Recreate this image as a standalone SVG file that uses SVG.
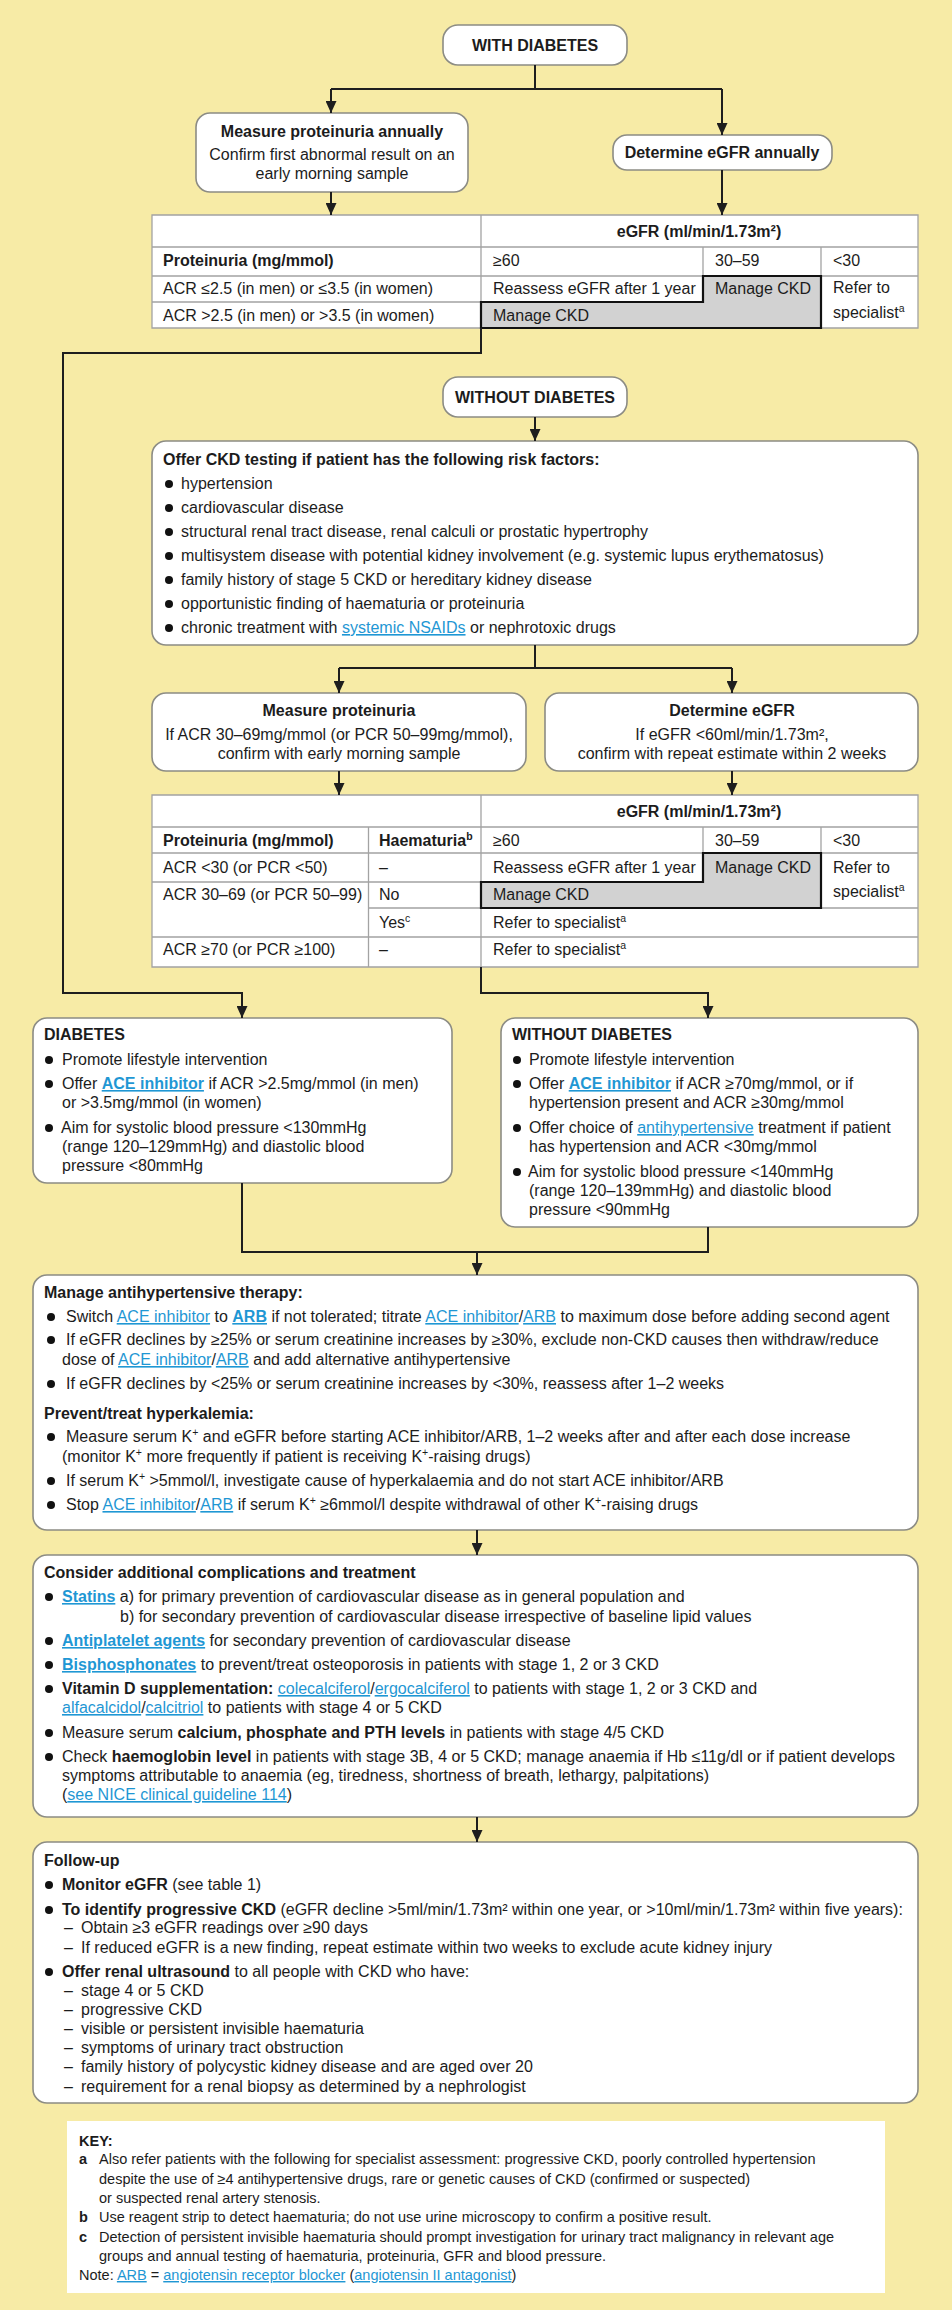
<svg xmlns="http://www.w3.org/2000/svg" width="952" height="2310" viewBox="0 0 952 2310">
<defs>
<style>
text{font-family:"Liberation Sans",Arial,Helvetica,sans-serif;font-size:16px;fill:#1c1c1c}
.b{font-weight:bold}
.c{text-anchor:middle}
.lk{fill:#1f97d4;text-decoration:underline}
.box{fill:#fff;stroke:#8c8c84;stroke-width:1.6}
.conn{fill:none;stroke:#1e1e1e;stroke-width:2}
.tl{stroke:#a3a3a3;stroke-width:1.3;fill:none}
.thick{fill:none;stroke:#111;stroke-width:2.2}
.grey{fill:#d2d2d2}
.dot{fill:#111}
.key text{font-size:14.5px}
.sup{font-size:10.5px}
</style>
<marker id="ah" viewBox="0 0 12 11" refX="12" refY="5.5" markerWidth="12" markerHeight="11" orient="auto" markerUnits="userSpaceOnUse"><path d="M0,0L12,5.5L0,11z" fill="#1e1e1e"/></marker>
</defs>
<rect x="0" y="0" width="952" height="2310" fill="#F7EBA6"/>

<g id="with-diabetes">
<rect class="box" x="443" y="25" width="184" height="40" rx="15"/>
<text class="b c" x="535" y="51">WITH DIABETES</text>
</g>

<g id="measure-proteinuria-annually">
<rect class="box" x="196" y="113" width="272" height="79" rx="14"/>
<text class="b c" x="332" y="137">Measure proteinuria annually</text>
<text class="c" x="332" y="160">Confirm first abnormal result on an</text>
<text class="c" x="332" y="179">early morning sample</text>
</g>

<g id="determine-egfr-annually">
<rect class="box" x="613" y="135" width="219" height="35" rx="14"/>
<text class="b c" x="722" y="158">Determine eGFR annually</text>
</g>

<g id="table1">
<rect x="152" y="215" width="766" height="113" fill="#fff"/>
<path class="grey" d="M703,276H821V328H481V302H703Z"/>
<path class="tl" d="M152,215H918V328H152Z M152,247H918 M152,276H703 M821,276H918 M152,302H481 M481,215V302 M703,247V276 M821,247V276"/>
<path class="thick" d="M703,276H821V328H481V302H703Z"/>
<text class="b c" x="699" y="237">eGFR (ml/min/1.73m²)</text>
<text class="b" x="163" y="266">Proteinuria (mg/mmol)</text>
<text x="493" y="266">≥60</text>
<text x="715" y="266">30–59</text>
<text x="833" y="266">&lt;30</text>
<text x="163" y="294">ACR ≤2.5 (in men) or ≤3.5 (in women)</text>
<text x="493" y="294">Reassess eGFR after 1 year</text>
<text x="715" y="294">Manage CKD</text>
<text x="833" y="293">Refer to</text>
<text x="163" y="321">ACR &gt;2.5 (in men) or &gt;3.5 (in women)</text>
<text x="493" y="321">Manage CKD</text>
<text x="833" y="318">specialist<tspan class="sup" dy="-6">a</tspan></text>
</g>

<g id="without-diabetes">
<rect class="box" x="443" y="377" width="184" height="40" rx="15"/>
<text class="b c" x="535" y="403">WITHOUT DIABETES</text>
</g>

<g id="risk-factors">
<rect class="box" x="152" y="441" width="766" height="204" rx="14"/>
<text class="b" x="163" y="465">Offer CKD testing if patient has the following risk factors:</text>
<circle class="dot" cx="169" cy="484" r="4"/><text x="181" y="489">hypertension</text>
<circle class="dot" cx="169" cy="508" r="4"/><text x="181" y="513">cardiovascular disease</text>
<circle class="dot" cx="169" cy="532" r="4"/><text x="181" y="537">structural renal tract disease, renal calculi or prostatic hypertrophy</text>
<circle class="dot" cx="169" cy="556" r="4"/><text x="181" y="561">multisystem disease with potential kidney involvement (e.g. systemic lupus erythematosus)</text>
<circle class="dot" cx="169" cy="580" r="4"/><text x="181" y="585">family history of stage 5 CKD or hereditary kidney disease</text>
<circle class="dot" cx="169" cy="604" r="4"/><text x="181" y="609">opportunistic finding of haematuria or proteinuria</text>
<circle class="dot" cx="169" cy="628" r="4"/><text x="181" y="633">chronic treatment with <tspan class="lk">systemic NSAIDs</tspan> or nephrotoxic drugs</text>
</g>

<g id="measure-proteinuria">
<rect class="box" x="152" y="693" width="374" height="78" rx="14"/>
<text class="b c" x="339" y="716">Measure proteinuria</text>
<text class="c" x="339" y="740">If ACR 30–69mg/mmol (or PCR 50–99mg/mmol),</text>
<text class="c" x="339" y="759">confirm with early morning sample</text>
</g>

<g id="determine-egfr">
<rect class="box" x="545" y="693" width="373" height="78" rx="14"/>
<text class="b c" x="732" y="716">Determine eGFR</text>
<text class="c" x="732" y="740">If eGFR &lt;60ml/min/1.73m²,</text>
<text class="c" x="732" y="759">confirm with repeat estimate within 2 weeks</text>
</g>

<g id="table2">
<rect x="152" y="795" width="766" height="172" fill="#fff"/>
<path class="grey" d="M703,853H821V908H481V882H703Z"/>
<path class="tl" d="M152,795H918V967H152Z M152,827H918 M152,853H918 M152,882H481 M368.5,908H481 M821,908H918 M152,937H918 M481,795V967 M368.5,827V967 M703,827V853 M821,827V853"/>
<path class="thick" d="M703,853H821V908H481V882H703Z"/>
<text class="b c" x="699" y="817">eGFR (ml/min/1.73m²)</text>
<text class="b" x="163" y="846">Proteinuria (mg/mmol)</text>
<text class="b" x="379" y="846">Haematuria<tspan class="sup" dy="-6">b</tspan></text>
<text x="493" y="846">≥60</text>
<text x="715" y="846">30–59</text>
<text x="833" y="846">&lt;30</text>
<text x="163" y="873">ACR &lt;30 (or PCR &lt;50)</text>
<text x="379" y="873">–</text>
<text x="493" y="873">Reassess eGFR after 1 year</text>
<text x="715" y="873">Manage CKD</text>
<text x="833" y="873">Refer to</text>
<text x="163" y="900">ACR 30–69 (or PCR 50–99)</text>
<text x="379" y="900">No</text>
<text x="493" y="900">Manage CKD</text>
<text x="833" y="897">specialist<tspan class="sup" dy="-6">a</tspan></text>
<text x="379" y="928">Yes<tspan class="sup" dy="-6">c</tspan></text>
<text x="493" y="928">Refer to specialist<tspan class="sup" dy="-6">a</tspan></text>
<text x="163" y="955">ACR ≥70 (or PCR ≥100)</text>
<text x="379" y="955">–</text>
<text x="493" y="955">Refer to specialist<tspan class="sup" dy="-6">a</tspan></text>
</g>

<g id="diabetes-treatment">
<rect class="box" x="33" y="1018" width="419" height="165" rx="14"/>
<text class="b" x="44" y="1040">DIABETES</text>
<circle class="dot" cx="49" cy="1060" r="4"/><text x="62" y="1065">Promote lifestyle intervention</text>
<circle class="dot" cx="49" cy="1084" r="4"/><text x="62" y="1089">Offer <tspan class="lk b">ACE inhibitor</tspan> if ACR &gt;2.5mg/mmol (in men)</text>
<text x="62" y="1108">or &gt;3.5mg/mmol (in women)</text>
<circle class="dot" cx="49" cy="1128" r="4"/><text x="61" y="1133">Aim for systolic blood pressure &lt;130mmHg</text>
<text x="62" y="1152">(range 120–129mmHg) and diastolic blood</text>
<text x="62" y="1171">pressure &lt;80mmHg</text>
</g>

<g id="without-diabetes-treatment">
<rect class="box" x="501" y="1018" width="417" height="209" rx="14"/>
<text class="b" x="512" y="1040">WITHOUT DIABETES</text>
<circle class="dot" cx="517" cy="1060" r="4"/><text x="529" y="1065">Promote lifestyle intervention</text>
<circle class="dot" cx="517" cy="1084" r="4"/><text x="529" y="1089">Offer <tspan class="lk b">ACE inhibitor</tspan> if ACR ≥70mg/mmol, or if</text>
<text x="529" y="1108">hypertension present and ACR ≥30mg/mmol</text>
<circle class="dot" cx="517" cy="1128" r="4"/><text x="529" y="1133">Offer choice of <tspan class="lk">antihypertensive</tspan> treatment if patient</text>
<text x="529" y="1152">has hypertension and ACR &lt;30mg/mmol</text>
<circle class="dot" cx="517" cy="1172" r="4"/><text x="528" y="1177">Aim for systolic blood pressure &lt;140mmHg</text>
<text x="529" y="1196">(range 120–139mmHg) and diastolic blood</text>
<text x="529" y="1215">pressure &lt;90mmHg</text>
</g>

<g id="manage-antihypertensive">
<rect class="box" x="33" y="1275" width="885" height="255" rx="14"/>
<text class="b" x="44" y="1298">Manage antihypertensive therapy:</text>
<circle class="dot" cx="51" cy="1317" r="4"/><text x="66" y="1322">Switch <tspan class="lk">ACE inhibitor</tspan> to <tspan class="lk b">ARB</tspan> if not tolerated; titrate <tspan class="lk">ACE inhibitor</tspan>/<tspan class="lk">ARB</tspan> to maximum dose before adding second agent</text>
<circle class="dot" cx="51" cy="1340" r="4"/><text x="66" y="1345">If eGFR declines by ≥25% or serum creatinine increases by ≥30%, exclude non-CKD causes then withdraw/reduce</text>
<text x="62" y="1365">dose of <tspan class="lk">ACE inhibitor</tspan>/<tspan class="lk">ARB</tspan> and add alternative antihypertensive</text>
<circle class="dot" cx="51" cy="1384" r="4"/><text x="66" y="1389">If eGFR declines by &lt;25% or serum creatinine increases by &lt;30%, reassess after 1–2 weeks</text>
<text class="b" x="44" y="1419">Prevent/treat hyperkalemia:</text>
<circle class="dot" cx="51" cy="1437" r="4"/><text x="66" y="1442">Measure serum K<tspan class="sup" dy="-6">+</tspan><tspan dy="6"> and eGFR before starting ACE inhibitor/ARB, 1–2 weeks after and after each dose increase</tspan></text>
<text x="62" y="1462">(monitor K<tspan class="sup" dy="-6">+</tspan><tspan dy="6"> more frequently if patient is receiving K</tspan><tspan class="sup" dy="-6">+</tspan><tspan dy="6">-raising drugs)</tspan></text>
<circle class="dot" cx="51" cy="1481" r="4"/><text x="66" y="1486">If serum K<tspan class="sup" dy="-6">+</tspan><tspan dy="6"> &gt;5mmol/l, investigate cause of hyperkalaemia and do not start ACE inhibitor/ARB</tspan></text>
<circle class="dot" cx="51" cy="1505" r="4"/><text x="66" y="1510">Stop <tspan class="lk">ACE inhibitor</tspan>/<tspan class="lk">ARB</tspan> if serum K<tspan class="sup" dy="-6">+</tspan><tspan dy="6"> ≥6mmol/l despite withdrawal of other K</tspan><tspan class="sup" dy="-6">+</tspan><tspan dy="6">-raising drugs</tspan></text>
</g>

<g id="additional-complications">
<rect class="box" x="33" y="1555" width="885" height="262" rx="14"/>
<text class="b" x="44" y="1578">Consider additional complications and treatment</text>
<circle class="dot" cx="49" cy="1597" r="4"/><text x="62" y="1602"><tspan class="lk b">Statins</tspan> a) for primary prevention of cardiovascular disease as in general population and</text>
<text x="120" y="1622">b) for secondary prevention of cardiovascular disease irrespective of baseline lipid values</text>
<circle class="dot" cx="49" cy="1641" r="4"/><text x="62" y="1646"><tspan class="lk b">Antiplatelet agents</tspan> for secondary prevention of cardiovascular disease</text>
<circle class="dot" cx="49" cy="1665" r="4"/><text x="62" y="1670"><tspan class="lk b">Bisphosphonates</tspan> to prevent/treat osteoporosis in patients with stage 1, 2 or 3 CKD</text>
<circle class="dot" cx="49" cy="1689" r="4"/><text x="62" y="1694"><tspan class="b">Vitamin D supplementation:</tspan> <tspan class="lk">colecalciferol</tspan>/<tspan class="lk">ergocalciferol</tspan> to patients with stage 1, 2 or 3 CKD and</text>
<text x="62" y="1713"><tspan class="lk">alfacalcidol</tspan>/<tspan class="lk">calcitriol</tspan> to patients with stage 4 or 5 CKD</text>
<circle class="dot" cx="49" cy="1733" r="4"/><text x="62" y="1738">Measure serum <tspan class="b">calcium, phosphate and PTH levels</tspan> in patients with stage 4/5 CKD</text>
<circle class="dot" cx="49" cy="1757" r="4"/><text x="62" y="1762">Check <tspan class="b">haemoglobin level</tspan> in patients with stage 3B, 4 or 5 CKD; manage anaemia if Hb ≤11g/dl or if patient develops</text>
<text x="62" y="1781">symptoms attributable to anaemia (eg, tiredness, shortness of breath, lethargy, palpitations)</text>
<text x="62" y="1800">(<tspan class="lk">see NICE clinical guideline 114</tspan>)</text>
</g>

<g id="follow-up">
<rect class="box" x="33" y="1842" width="885" height="261" rx="14"/>
<text class="b" x="44" y="1866">Follow-up</text>
<circle class="dot" cx="49" cy="1885" r="4"/><text x="62" y="1890"><tspan class="b">Monitor eGFR</tspan> (see table 1)</text>
<circle class="dot" cx="49" cy="1910" r="4"/><text x="62" y="1915"><tspan class="b">To identify progressive CKD</tspan> (eGFR decline &gt;5ml/min/1.73m² within one year, or &gt;10ml/min/1.73m² within five years):</text>
<text x="64" y="1933">–</text><text x="81" y="1933">Obtain ≥3 eGFR readings over ≥90 days</text>
<text x="64" y="1953">–</text><text x="81" y="1953">If reduced eGFR is a new finding, repeat estimate within two weeks to exclude acute kidney injury</text>
<circle class="dot" cx="49" cy="1972" r="4"/><text x="62" y="1977"><tspan class="b">Offer renal ultrasound</tspan> to all people with CKD who have:</text>
<text x="64" y="1996">–</text><text x="81" y="1996">stage 4 or 5 CKD</text>
<text x="64" y="2015">–</text><text x="81" y="2015">progressive CKD</text>
<text x="64" y="2034">–</text><text x="81" y="2034">visible or persistent invisible haematuria</text>
<text x="64" y="2053">–</text><text x="81" y="2053">symptoms of urinary tract obstruction</text>
<text x="64" y="2072">–</text><text x="81" y="2072">family history of polycystic kidney disease and are aged over 20</text>
<text x="64" y="2092">–</text><text x="81" y="2092">requirement for a renal biopsy as determined by a nephrologist</text>
</g>

<g id="key" class="key">
<rect x="67" y="2121" width="818" height="172" fill="#fff"/>
<text class="b" x="79" y="2146">KEY:</text>
<text class="b" x="79" y="2164">a</text><text x="99" y="2164">Also refer patients with the following for specialist assessment: progressive CKD, poorly controlled hypertension</text>
<text x="99" y="2184">despite the use of ≥4 antihypertensive drugs, rare or genetic causes of CKD (confirmed or suspected)</text>
<text x="99" y="2203">or suspected renal artery stenosis.</text>
<text class="b" x="79" y="2222">b</text><text x="99" y="2222">Use reagent strip to detect haematuria; do not use urine microscopy to confirm a positive result.</text>
<text class="b" x="79" y="2242">c</text><text x="99" y="2242">Detection of persistent invisible haematuria should prompt investigation for urinary tract malignancy in relevant age</text>
<text x="99" y="2261">groups and annual testing of haematuria, proteinuria, GFR and blood pressure.</text>
<text x="79" y="2280">Note: <tspan class="lk">ARB</tspan> = <tspan class="lk">angiotensin receptor blocker</tspan> (<tspan class="lk">angiotensin II antagonist</tspan>)</text>
</g>

<g id="connectors" class="conn">
<path d="M535,65V89M331,89H722"/>
<path d="M331,89V113" marker-end="url(#ah)"/>
<path d="M722,89V135" marker-end="url(#ah)"/>
<path d="M331,192V215" marker-end="url(#ah)"/>
<path d="M722,170V215" marker-end="url(#ah)"/>
<path d="M481,328V353H63V993H242V1018" marker-end="url(#ah)"/>
<path d="M535,417V441" marker-end="url(#ah)"/>
<path d="M535,645V668M339,668H732"/>
<path d="M339,668V693" marker-end="url(#ah)"/>
<path d="M732,668V693" marker-end="url(#ah)"/>
<path d="M339,771V795" marker-end="url(#ah)"/>
<path d="M732,771V795" marker-end="url(#ah)"/>
<path d="M481,967V993H708V1018" marker-end="url(#ah)"/>
<path d="M242,1183V1252H708V1227"/>
<path d="M477,1252V1275" marker-end="url(#ah)"/>
<path d="M477,1530V1555" marker-end="url(#ah)"/>
<path d="M477,1817V1842" marker-end="url(#ah)"/>
</g>
</svg>
